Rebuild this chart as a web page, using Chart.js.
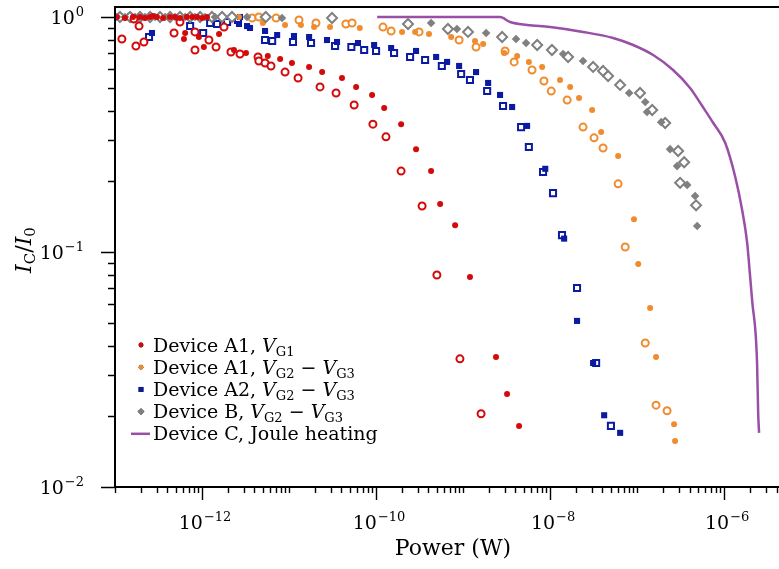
<!DOCTYPE html>
<html>
<head>
<meta charset="utf-8">
<script src="https://cdn.jsdelivr.net/npm/chart.js@4.4.1/dist/chart.umd.min.js"></script>
<style>
  html, body { margin: 0; padding: 0; background: #fff; overflow: hidden; }
  canvas { display: block; }
</style>
</head>
<body>
<canvas id="myChart" width="789" height="569"></canvas>
<script>
// [power (W), I_C/I_0] pairs
const a1G1Filled = [
  [1.05e-13, 1.0], [1.30e-13, 0.99], [1.61e-13, 1.0], [1.94e-13, 1.0], [2.21e-13, 0.99],
  [2.53e-13, 1.0], [2.73e-13, 1.01], [3.04e-13, 1.0], [3.56e-13, 0.99], [4.29e-13, 1.0],
  [4.9e-13, 1.0], [5.58e-13, 0.99], [6.7e-13, 1.0], [7.7e-13, 1.0], [8.8e-13, 1.0],
  [1.0e-12, 0.99], [1.14e-12, 1.0],
  [6.2e-13, 0.806], [6.4e-13, 0.855], [9.2e-13, 0.822], [1.05e-12, 0.745], [1.57e-12, 0.847],
  [2.33e-12, 0.724], [3.2e-12, 0.703], [5.7e-12, 0.682], [7.9e-12, 0.663], [1.08e-11, 0.637],
  [1.7e-11, 0.613], [2.4e-11, 0.583], [4.06e-11, 0.550], [5.9e-11, 0.504], [9.0e-11, 0.466],
  [1.24e-10, 0.410], [1.94e-10, 0.350], [2.88e-10, 0.274], [4.29e-10, 0.221], [5.45e-10, 0.160],
  [8.1e-10, 0.130], [1.2e-9, 0.0783], [2.39e-9, 0.0357], [3.2e-9, 0.0249], [4.4e-9, 0.0182]
];
const a1G1Open = [
  [1.20e-13, 0.806], [1.65e-13, 0.98], [1.74e-13, 0.753], [1.89e-13, 0.915], [2.15e-13, 0.783],
  [4.77e-13, 0.855], [5.58e-13, 0.952], [8.3e-13, 0.724], [8.3e-13, 0.864], [1.2e-12, 0.798],
  [1.45e-12, 0.745], [1.79e-12, 0.906], [2.15e-12, 0.710], [2.73e-12, 0.696], [4.4e-12, 0.676],
  [4.5e-12, 0.650], [5.3e-12, 0.637], [6.2e-12, 0.619], [9.0e-12, 0.583], [1.27e-11, 0.550],
  [2.27e-11, 0.504], [3.47e-11, 0.475], [5.6e-11, 0.422], [9.2e-11, 0.350], [1.30e-10, 0.309],
  [1.94e-10, 0.221], [3.38e-10, 0.157], [5.0e-10, 0.0798], [9.2e-10, 0.0351], [1.61e-9, 0.0205]
];
const a1G23Filled = [
  [2.66e-12, 1.0], [5.0e-12, 0.943], [9.0e-12, 0.925], [1.37e-11, 0.925], [1.94e-11, 0.906],
  [2.96e-11, 0.906], [6.5e-11, 0.898], [1.99e-10, 0.864], [2.81e-10, 0.864], [4.06e-10, 0.847],
  [7.3e-10, 0.822], [1.37e-9, 0.790], [1.70e-9, 0.767], [2.96e-9, 0.703], [4.18e-9, 0.682],
  [5.7e-9, 0.644], [8.1e-9, 0.613], [1.30e-8, 0.539], [1.70e-8, 0.504], [2.15e-8, 0.452],
  [3.04e-8, 0.402], [3.86e-8, 0.324], [6.05e-8, 0.256], [9.2e-8, 0.138], [1.03e-7, 0.0889],
  [1.41e-7, 0.0578], [1.65e-7, 0.0357], [2.66e-7, 0.0185], [2.73e-7, 0.0157]
];
const a1G23Open = [
  [3.76e-12, 0.99], [4.5e-12, 1.0], [7.1e-12, 0.99], [1.30e-11, 0.971], [2.04e-11, 0.943],
  [4.5e-11, 0.934], [5.3e-11, 0.943], [1.20e-10, 0.906], [1.49e-10, 0.872], [3.12e-10, 0.864],
  [9.0e-10, 0.798], [1.41e-9, 0.745], [3.04e-9, 0.717], [3.86e-9, 0.644], [6.2e-9, 0.595],
  [8.5e-9, 0.534], [1.03e-8, 0.484], [1.57e-8, 0.443], [2.39e-8, 0.340], [3.2e-8, 0.306],
  [4.06e-8, 0.277], [6.05e-8, 0.195], [7.3e-8, 0.105], [1.24e-7, 0.041], [1.65e-7, 0.0223],
  [2.21e-7, 0.0211]
];
const a2Filled = [
  [1.08e-13, 1.0], [1.49e-13, 1.01], [2.66e-13, 0.855], [2.66e-12, 0.934], [2.73e-12, 1.0],
  [3.29e-12, 0.915], [3.56e-12, 0.898], [5.3e-12, 0.872], [7.3e-12, 0.838], [1.14e-11, 0.830],
  [1.7e-11, 0.822], [2.73e-11, 0.798], [3.56e-11, 0.783], [6.2e-11, 0.775], [9.5e-11, 0.760],
  [1.49e-10, 0.738], [2.88e-10, 0.717], [4.9e-10, 0.676], [6.55e-10, 0.644], [9.0e-10, 0.619],
  [1.41e-9, 0.583], [1.94e-9, 0.524], [2.66e-9, 0.466], [3.66e-9, 0.414], [5.44e-9, 0.344],
  [8.8e-9, 0.226], [1.45e-8, 0.114], [2.04e-8, 0.0509], [3.12e-8, 0.0337], [4.18e-8, 0.0202],
  [6.38e-8, 0.0170]
];
const a2Open = [
  [2.46e-13, 0.822], [7.3e-13, 0.915], [1.03e-12, 0.855], [1.24e-12, 0.943], [1.49e-12, 0.934],
  [1.94e-12, 0.952], [2.59e-12, 0.971], [5.3e-12, 0.798], [6.4e-12, 0.790], [1.11e-11, 0.783],
  [1.79e-11, 0.775], [3.38e-11, 0.753], [5.2e-11, 0.745], [7.3e-11, 0.724], [1.0e-10, 0.717],
  [1.61e-10, 0.703], [2.46e-10, 0.676], [3.66e-10, 0.656], [5.7e-10, 0.619], [9.5e-10, 0.572],
  [1.2e-9, 0.539], [1.89e-9, 0.484], [2.88e-9, 0.418], [4.64e-9, 0.340], [5.7e-9, 0.280],
  [8.3e-9, 0.219], [1.08e-8, 0.178], [1.37e-8, 0.118], [2.04e-8, 0.0703], [3.38e-8, 0.0337],
  [5.0e-8, 0.0182]
];
const bFilled = [
  [1.05e-13, 1.0], [1.30e-13, 1.0], [1.70e-13, 1.0], [2.21e-13, 1.0], [2.88e-13, 1.0],
  [3.76e-13, 1.0], [4.9e-13, 1.0], [6.4e-13, 1.0], [8.3e-13, 1.0], [1.08e-12, 1.0],
  [1.41e-12, 1.0], [3.29e-12, 1.0], [8.3e-12, 0.99],
  [4.29e-10, 0.943], [8.5e-10, 0.889], [1.84e-9, 0.855], [4.06e-9, 0.806], [5.3e-9, 0.775],
  [1.41e-8, 0.696], [2.39e-8, 0.650], [8.1e-8, 0.475], [1.24e-7, 0.435], [1.30e-7, 0.394],
  [1.89e-7, 0.357], [2.39e-7, 0.274], [2.88e-7, 0.232], [3.76e-7, 0.193], [4.64e-7, 0.173],
  [4.9e-7, 0.129]
];
const bOpen = [
  [1.14e-13, 1.0], [1.49e-13, 1.0], [1.94e-13, 1.0], [2.53e-13, 1.0], [3.29e-13, 1.0],
  [4.29e-13, 1.0], [5.58e-13, 1.0], [7.3e-13, 1.0], [9.5e-13, 1.0], [1.30e-12, 1.0],
  [1.70e-12, 1.0], [2.21e-12, 1.0], [5.4e-12, 1.0], [3.12e-11, 0.99],
  [2.33e-10, 0.934], [6.7e-10, 0.889], [1.14e-9, 0.864], [2.81e-9, 0.822], [7.1e-9, 0.760],
  [1.05e-8, 0.724], [1.61e-8, 0.676], [3.12e-8, 0.613], [4.06e-8, 0.589], [4.64e-8, 0.561],
  [6.38e-8, 0.514], [1.08e-7, 0.475], [1.49e-7, 0.402], [2.1e-7, 0.354], [2.96e-7, 0.269],
  [3.47e-7, 0.241], [3.12e-7, 0.197], [4.76e-7, 0.158]
];
const cJoule = [
  [1.03e-10, 1.0], [2.66e-9, 1.0], [3.47e-9, 0.952], [5.44e-9, 0.925], [1.0e-8, 0.906],
  [2.39e-8, 0.864], [5.3e-8, 0.814], [9.0e-8, 0.760], [1.53e-7, 0.689], [2.59e-7, 0.595],
  [4.06e-7, 0.499], [5.7e-7, 0.414], [7.5e-7, 0.354], [1.03e-6, 0.291], [1.34e-6, 0.209],
  [1.61e-6, 0.151], [1.84e-6, 0.109], [1.99e-6, 0.0783], [2.10e-6, 0.062], [2.39e-6, 0.0337],
  [2.46e-6, 0.0207], [2.52e-6, 0.0170]
];

const xMajorExps = [-12, -10, -8, -6];
const yMajorExps = [0, -1, -2];
const legendNames = ['Device A1, ', 'Device A1, ', 'Device A2, ', 'Device B, ', 'Device C, Joule heating'];
const legendGates = [['G1'], ['G2', 'G3'], ['G2', 'G3'], ['G2', 'G3'], []];

const RED = '#d40a0a', ORANGE = '#f08c2e', BLUE = '#0b1aa3', GRAY = '#808080', PURPLE = '#9a4fa6';
const SERIF = '"DejaVu Serif", serif';

const toXY = arr => arr.map(p => ({ x: p[0], y: p[1] }));

function filled(data, color, style, r) {
  return { data: toXY(data), pointStyle: style, pointRadius: r, backgroundColor: color,
           borderColor: color, borderWidth: 0, showLine: false };
}
function open(data, color, style, r) {
  return { data: toXY(data), pointStyle: style, pointRadius: r, backgroundColor: '#fff',
           borderColor: color, borderWidth: 2, showLine: false };
}

// first dataset ends up on top
const datasets = [
  filled(a1G1Filled, RED, 'circle', 3),
  open(a1G1Open, RED, 'circle', 3.5),
  filled(bFilled, GRAY, 'rectRot', 4.3),
  open(bOpen, GRAY, 'rectRot', 5),
  filled(a1G23Filled, ORANGE, 'circle', 3),
  open(a1G23Open, ORANGE, 'circle', 3.5),
  filled(a2Filled, BLUE, 'rect', 4.3),
  open(a2Open, BLUE, 'rect', 4.3),
  { data: toXY(cJoule), showLine: true, pointRadius: 0, borderColor: PURPLE, borderWidth: 2.5,
    cubicInterpolationMode: 'monotone', fill: false }
];

function drawRich(ctx, segs, x, y) {
  let cx = x;
  segs.forEach(s => {
    ctx.font = s.f;
    ctx.fillText(s.t, cx, y + (s.dy || 0));
    cx += ctx.measureText(s.t).width + (s.gap || 0);
  });
  return cx - x;
}
function richWidth(ctx, segs) {
  let w = 0;
  segs.forEach(s => { ctx.font = s.f; w += ctx.measureText(s.t).width + (s.gap || 0); });
  return w;
}
function pow10Segs(exp) {
  return [
    { t: '10', f: '19px ' + SERIF, gap: 1 },
    { t: (exp < 0 ? '\u2212' : '') + Math.abs(exp), f: '13px ' + SERIF, dy: -8 }
  ];
}

const texAxes = {
  id: 'texAxes',
  afterDraw(chart) {
    const { ctx, chartArea: a, scales: { x, y } } = chart;
    ctx.save();
    ctx.fillStyle = '#000';
    ctx.strokeStyle = '#000';
    ctx.textBaseline = 'alphabetic';
    ctx.textAlign = 'left';

    // ticks
    ctx.lineWidth = 1.4;
    ctx.beginPath();
    for (let e = -14; e <= -5; e++) {
      for (let m = 1; m <= 9; m++) {
        const v = m * Math.pow(10, e);
        if (v < x.min * 0.999 || v > x.max) continue;
        const px = Math.round(x.getPixelForValue(v)) + 0.5;
        const len = (m === 1 && xMajorExps.includes(e)) ? 13 : 6;
        ctx.moveTo(px, a.bottom);
        ctx.lineTo(px, a.bottom + len);
      }
    }
    for (let e = -2; e <= 0; e++) {
      for (let m = 1; m <= 9; m++) {
        const v = m * Math.pow(10, e);
        if (v < y.min * 0.999 || v > y.max) continue;
        const py = Math.round(y.getPixelForValue(v)) + 0.5;
        const len = (m === 1 && yMajorExps.includes(e)) ? 14 : 7;
        ctx.moveTo(a.left, py);
        ctx.lineTo(a.left - len, py);
      }
    }
    ctx.stroke();

    // spines (no right spine inside the window)
    ctx.lineWidth = 2;
    ctx.beginPath();
    ctx.moveTo(a.right, a.top);
    ctx.lineTo(a.left, a.top);
    ctx.lineTo(a.left, a.bottom);
    ctx.lineTo(a.right, a.bottom);
    ctx.stroke();

    // tick labels
    xMajorExps.forEach(e => {
      const segs = pow10Segs(e);
      const w = richWidth(ctx, segs);
      drawRich(ctx, segs, x.getPixelForValue(Math.pow(10, e)) + 3 - w / 2, 529);
    });
    yMajorExps.forEach(e => {
      const segs = pow10Segs(e);
      const w = richWidth(ctx, segs);
      drawRich(ctx, segs, 84 - w, y.getPixelForValue(Math.pow(10, e)) + 7);
    });

    // axis titles
    ctx.font = '22px ' + SERIF;
    ctx.textAlign = 'center';
    ctx.fillText('Power (W)', 453, 555);
    ctx.textAlign = 'left';
    const ySegs = [
      { t: 'I', f: 'italic 22px ' + SERIF },
      { t: 'C', f: '15px ' + SERIF, dy: 4 },
      { t: '/', f: '22px ' + SERIF },
      { t: 'I', f: 'italic 22px ' + SERIF },
      { t: '0', f: '15px ' + SERIF, dy: 4 }
    ];
    ctx.save();
    ctx.translate(31, 250);
    ctx.rotate(-Math.PI / 2);
    drawRich(ctx, ySegs, -richWidth(ctx, ySegs) / 2, 0);
    ctx.restore();

    // legend
    const markers = [datasets[0], datasets[4], datasets[6], datasets[2], datasets[8]];
    legendNames.forEach((name, i) => {
      const my = 345 + i * 22.2;
      const ds = markers[i];
      if (ds.showLine) {
        ctx.strokeStyle = ds.borderColor;
        ctx.lineWidth = ds.borderWidth;
        ctx.beginPath();
        ctx.moveTo(131, my);
        ctx.lineTo(150, my);
        ctx.stroke();
      } else {
        Chart.helpers.drawPoint(ctx, {
          pointStyle: ds.pointStyle, radius: ds.pointRadius * 0.8, borderWidth: 0, rotation: 0
        }, 141, my);
        ctx.fillStyle = ds.backgroundColor;
        ctx.fill();
      }
      ctx.fillStyle = '#000';
      const segs = [{ t: name, f: '19px ' + SERIF }];
      legendGates[i].forEach((g, k) => {
        if (k > 0) segs.push({ t: ' \u2212 ', f: '19px ' + SERIF });
        segs.push({ t: 'V', f: 'italic 19px ' + SERIF });
        segs.push({ t: g, f: '13px ' + SERIF, dy: 4 });
      });
      drawRich(ctx, segs, 153, my + 6.5);
    });
    ctx.restore();
  }
};

const ctx = document.getElementById('myChart').getContext('2d');
new Chart(ctx, {
  type: 'scatter',
  data: { datasets: datasets },
  options: {
    responsive: false,
    animation: false,
    // canvas is 10px wider than the window so the plot runs off the right edge
    layout: { padding: { left: 115, right: 10, top: 7, bottom: 82 } },
    plugins: { legend: { display: false }, tooltip: { enabled: false } },
    scales: {
      x: { type: 'logarithmic', min: 1e-13, max: 4.27e-6, display: false },
      y: { type: 'logarithmic', min: 0.01, max: 1.103, display: false }
    }
  },
  plugins: [texAxes]
});
</script>
</body>
</html>
